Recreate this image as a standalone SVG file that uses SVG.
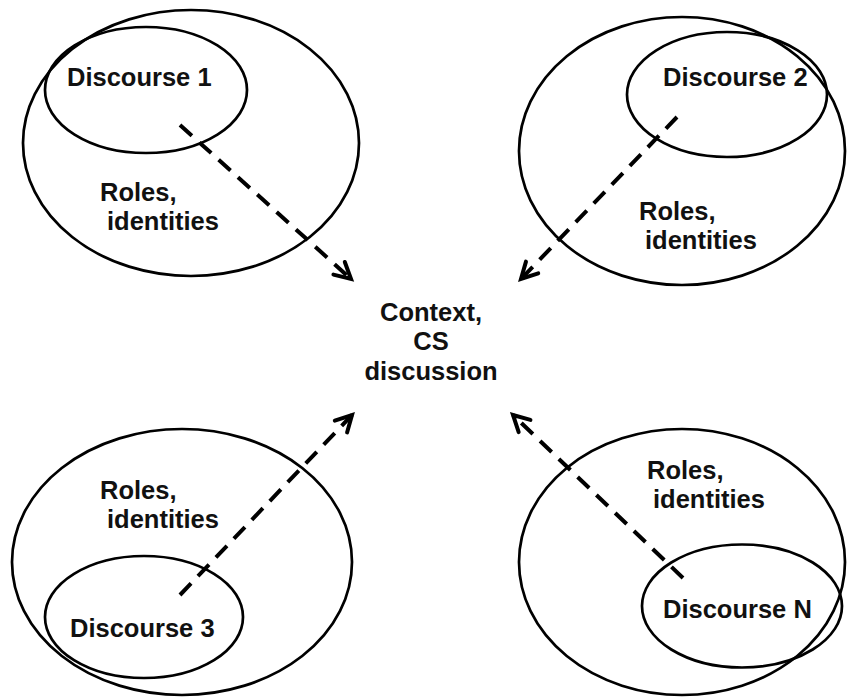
<svg xmlns="http://www.w3.org/2000/svg" width="847" height="697" viewBox="0 0 847 697">
  <style>
    .ring { fill: none; stroke: #000; stroke-width: 2.7; }
    .lbl { font-family: "Liberation Sans", Arial, sans-serif; font-weight: bold; font-size: 25.5px; fill: #111; }
    .mid { text-anchor: middle; }
    .flow { fill: none; stroke: #000; stroke-width: 4; stroke-dasharray: 16 10; }
  </style>
  <defs>
    <marker id="open-arrow" markerUnits="userSpaceOnUse" markerWidth="34" markerHeight="34" viewBox="-22 -17 34 34" refX="0" refY="0" orient="auto">
      <path d="M -16 -8.5 L 0 0 L -16 8.5" fill="none" stroke="#000" stroke-width="4" stroke-linecap="round" stroke-linejoin="miter"/>
    </marker>
  </defs>
  <rect width="847" height="697" fill="#fff"/>

  <!-- Discourse 1 with its roles and identities -->
  <g id="group-1">
    <ellipse class="ring" cx="191" cy="143" rx="168" ry="133"/>
    <ellipse class="ring" cx="146" cy="90" rx="101" ry="63"/>
    <text class="lbl" x="67" y="86">Discourse 1</text>
    <text class="lbl" x="100" y="201">Roles,</text>
    <text class="lbl" x="107" y="230">identities</text>
  </g>

  <!-- Discourse 2 with its roles and identities -->
  <g id="group-2">
    <ellipse class="ring" cx="682" cy="151" rx="163" ry="134"/>
    <ellipse class="ring" cx="727" cy="94.5" rx="100" ry="62.5"/>
    <text class="lbl" x="663" y="86">Discourse 2</text>
    <text class="lbl" x="639" y="220">Roles,</text>
    <text class="lbl" x="645" y="249">identities</text>
  </g>

  <!-- Discourse 3 with its roles and identities -->
  <g id="group-3">
    <ellipse class="ring" cx="182" cy="562" rx="170" ry="133"/>
    <ellipse class="ring" cx="144" cy="617" rx="99" ry="61"/>
    <text class="lbl" x="70" y="637">Discourse 3</text>
    <text class="lbl" x="100" y="499">Roles,</text>
    <text class="lbl" x="107" y="528">identities</text>
  </g>

  <!-- Discourse N with its roles and identities -->
  <g id="group-n">
    <ellipse class="ring" cx="682" cy="562" rx="163" ry="133"/>
    <ellipse class="ring" cx="742" cy="606" rx="100" ry="61.5"/>
    <text class="lbl" x="663" y="618">Discourse N</text>
    <text class="lbl" x="647" y="479">Roles,</text>
    <text class="lbl" x="653" y="508">identities</text>
  </g>

  <!-- Shared context in the middle -->
  <g id="context">
    <text class="lbl mid" x="431" y="321">Context,</text>
    <text class="lbl mid" x="431" y="350">CS</text>
    <text class="lbl mid" x="431" y="380">discussion</text>
  </g>

  <!-- Dashed flows from each discourse toward the context -->
  <g id="connectors">
    <line class="flow" x1="180" y1="125" x2="351" y2="279" marker-end="url(#open-arrow)"/>
    <line class="flow" x1="677" y1="117" x2="521" y2="279" marker-end="url(#open-arrow)"/>
    <line class="flow" x1="180" y1="595" x2="352" y2="415" marker-end="url(#open-arrow)"/>
    <line class="flow" x1="683" y1="578" x2="513" y2="415" marker-end="url(#open-arrow)"/>
  </g>
</svg>
